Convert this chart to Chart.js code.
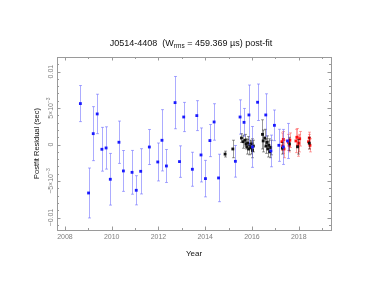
<!DOCTYPE html>
<html>
<head>
<meta charset="utf-8">
<script src="https://cdn.jsdelivr.net/npm/chart.js@4.4.1/dist/chart.umd.min.js"></script>
<style>
  html, body { margin: 0; padding: 0; background: #fff; }
  #wrap { width: 374px; height: 289px; }
</style>
</head>
<body>
<div id="wrap"><canvas id="resid-chart"></canvas></div>
<script>
// blue TOAs: year, residual (s), error (s)
const blueYear = [2008.66, 2009.01, 2009.21, 2009.38, 2009.58, 2009.76, 2009.94, 2010.31, 2010.50, 2010.87,
  2011.05, 2011.24, 2011.61, 2011.97, 2012.15, 2012.34, 2012.71, 2012.90, 2013.08, 2013.45,
  2013.64, 2013.82, 2014.01, 2014.20, 2014.38, 2014.57, 2015.29, 2015.49, 2015.66, 2015.87,
  2016.02, 2016.24, 2016.59, 2016.81, 2016.96, 2017.15, 2017.34, 2017.52]
const blueRes = [0.00562, -0.00663, 0.0015, 0.0042, -0.00064, -0.00046, -0.00475, 0.00032, -0.00361, -0.0038,
  -0.00626, -0.00366, -0.00033, -0.00238, 0.00059, -0.00293, 0.00575, -0.00233, 0.00378, -0.00338,
  0.00397, -0.00142, -0.00466, 0.00055, 0.0031, -0.00457, -0.00229, 0.00378, 0.00305, 0.00406,
  -0.00032, 0.0058, 0.00406, -0.00087, 0.00264, -0.0001, -0.00032, 0.0005]
const blueErr = [0.00247, 0.00342, 0.0037, 0.0027, 0.0030, 0.0029, 0.00354, 0.0029, 0.0028, 0.0030,
  0.0020, 0.0031, 0.0024, 0.0026, 0.0042, 0.00226, 0.00358, 0.00216, 0.0020, 0.00233,
  0.00205, 0.0037, 0.0025, 0.0022, 0.0025, 0.00325, 0.00217, 0.00235, 0.0019, 0.0041,
  0.0028, 0.0025, 0.0029, 0.00217, 0.0021, 0.0022, 0.0024, 0.0024]

// black TOAs
const blackYear = [2014.85, 2015.18, 2015.55, 2015.62, 2015.70, 2015.74, 2015.78, 2015.82, 2015.86, 2015.90,
  2015.94, 2015.98, 2016.02, 2016.06, 2016.45, 2016.48, 2016.55, 2016.60, 2016.64, 2016.68,
  2016.72, 2016.76, 2016.80, 2017.30, 2017.60, 2017.95, 2018.45]
const blackRes = [-0.0013, -0.0006, 0.0009, 0.0004, 0.0006, 0.0001, -0.0003, 0.0002, -0.0006, 0.0000,
  -0.0004, 0.0001, -0.0008, -0.0002, 0.0014, 0.0005, 0.0009, -0.0002, 0.0003, -0.0006,
  -0.0001, -0.0010, -0.0004, -0.0005, 0.0001, -0.0003, 0.0002]
const blackErr = [0.0004, 0.0012, 0.0006, 0.0009, 0.0008, 0.0007, 0.0010, 0.0009, 0.0008, 0.0006,
  0.0009, 0.0007, 0.0010, 0.0008, 0.0020, 0.0015, 0.0012, 0.0010, 0.0009, 0.0011,
  0.0009, 0.0008, 0.0010, 0.0008, 0.0009, 0.0010, 0.0008]

// red TOAs
const redYear = [2017.28, 2017.31, 2017.34, 2017.37, 2017.56, 2017.59, 2017.62, 2017.88, 2017.92, 2017.96,
  2018.00, 2018.04, 2018.42, 2018.45, 2018.48]
const redRes = [0.0004, -0.0002, 0.0007, -0.0006, 0.0003, -0.0001, 0.0006, 0.0005, 0.0010, -0.0002,
  0.0002, 0.0008, 0.0004, 0.0009, -0.0001]
const redErr = [0.0012, 0.0010, 0.0011, 0.0012, 0.0011, 0.0009, 0.0010, 0.0016, 0.0012, 0.0014,
  0.0012, 0.0010, 0.0010, 0.0008, 0.0009]

// axis labels
const xTickLabels = [2008, 2010, 2012, 2014, 2016, 2018]
const yTickValues = [0.01, 0.005, 0, -0.005, -0.01]
const yTickLabels = [["0.01", ""], ["5\u00d710", "\u22123"], ["0", ""], ["\u22125\u00d710", "\u22123"], ["\u22120.01", ""]]

const FONT = "'Liberation Sans', Arial, sans-serif"

function toPoints(xs, ys, es) {
  let pts = []
  for (let i = 0; i < xs.length; i++) {
    pts.push({ x: xs[i], y: ys[i], err: es[i] })
  }
  return pts
}

// error bars, drawn just before each dataset's markers
const errorBars = {
  id: 'errorBars',
  beforeDatasetDraw(chart, args) {
    const ds = chart.data.datasets[args.index]
    const meta = args.meta
    const ys = chart.scales.y
    const ctx = chart.ctx
    ctx.save()
    ctx.strokeStyle = ds.barColor
    ctx.lineWidth = 1
    meta.data.forEach((el, i) => {
      const p = ds.data[i]
      const x = Math.round(el.x) + 0.5
      const y1 = ys.getPixelForValue(p.y + p.err)
      const y2 = ys.getPixelForValue(p.y - p.err)
      ctx.beginPath()
      ctx.moveTo(x, y1); ctx.lineTo(x, y2)
      ctx.moveTo(x - 1.5, y1); ctx.lineTo(x + 1.5, y1)
      ctx.moveTo(x - 1.5, y2); ctx.lineTo(x + 1.5, y2)
      ctx.stroke()
    })
    ctx.restore()
  }
}

// frame with inward ticks, rotated y labels and title with subscript
const frame = {
  id: 'frame',
  afterDraw(chart) {
    const ctx = chart.ctx
    const a = chart.chartArea
    const xs = chart.scales.x
    const ys = chart.scales.y
    ctx.save()
    ctx.strokeStyle = '#9a9a9a'
    ctx.lineWidth = 1
    ctx.strokeRect(Math.round(a.left) + 0.5, Math.round(a.top) + 0.5, Math.round(a.right - a.left), Math.round(a.bottom - a.top))

    ctx.beginPath()
    for (let yr = 2008; yr <= 2019; yr++) {
      const x = Math.round(xs.getPixelForValue(yr)) + 0.5
      const len = yr % 2 === 0 ? 3.5 : 2
      ctx.moveTo(x, a.bottom); ctx.lineTo(x, a.bottom - len)
      ctx.moveTo(x, a.top); ctx.lineTo(x, a.top + len)
    }
    for (let k = -11; k <= 11; k++) {
      const y = Math.round(ys.getPixelForValue(k / 1000)) + 0.5
      const len = k % 5 === 0 ? 3.5 : 2
      ctx.moveTo(a.left, y); ctx.lineTo(a.left + len, y)
      ctx.moveTo(a.right, y); ctx.lineTo(a.right - len, y)
    }
    ctx.stroke()

    // rotated y tick labels
    ctx.fillStyle = '#808080'
    for (let i = 0; i < yTickValues.length; i++) {
      const y = ys.getPixelForValue(yTickValues[i])
      const [main, sup] = yTickLabels[i]
      ctx.save()
      ctx.translate(a.left - 4, y)
      ctx.rotate(-Math.PI / 2)
      ctx.font = '7px ' + FONT
      const w1 = ctx.measureText(main).width
      ctx.font = '5px ' + FONT
      const w2 = sup ? ctx.measureText(sup).width : 0
      const x0 = -(w1 + w2) / 2
      ctx.textBaseline = 'alphabetic'
      ctx.font = '7px ' + FONT
      ctx.fillText(main, x0, 0)
      if (sup) {
        ctx.font = '5px ' + FONT
        ctx.fillText(sup, x0 + w1, -3)
      }
      ctx.restore()
    }

    // title
    const parts = [
      ['J0514-4408  (W', 9, 0],
      ['rms', 6.5, 2],
      [' = 459.369 \u00b5s) post-fit', 9, 0]
    ]
    let total = 0
    parts.forEach(p => { ctx.font = p[1] + 'px ' + FONT; total += ctx.measureText(p[0]).width })
    let x = 191 - total / 2
    ctx.fillStyle = '#111'
    ctx.textBaseline = 'alphabetic'
    parts.forEach(p => {
      ctx.font = p[1] + 'px ' + FONT
      ctx.fillText(p[0], x, 45.5 + p[2])
      x += ctx.measureText(p[0]).width
    })
    ctx.restore()
  }
}

new Chart(document.getElementById('resid-chart'), {
  type: 'scatter',
  data: {
    datasets: [
      { data: toPoints(blueYear, blueRes, blueErr), backgroundColor: '#1a1aff', borderColor: '#1a1aff', barColor: 'rgba(90,90,255,0.5)', pointStyle: 'rect', pointRadius: 2, borderWidth: 0 },
      { data: toPoints(blackYear, blackRes, blackErr), backgroundColor: '#111', borderColor: '#111', barColor: 'rgba(0,0,0,0.4)', pointStyle: 'rect', pointRadius: 2, borderWidth: 0 },
      { data: toPoints(redYear, redRes, redErr), backgroundColor: '#ff1010', borderColor: '#ff1010', barColor: 'rgba(255,60,60,0.45)', pointStyle: 'rect', pointRadius: 2, borderWidth: 0 }
    ]
  },
  options: {
    responsive: true,
    maintainAspectRatio: false,
    animation: false,
    events: [],
    layout: { padding: { left: 28, right: 43, top: 57, bottom: 30 } },
    plugins: { legend: { display: false }, tooltip: { enabled: false } },
    scales: {
      x: {
        type: 'linear',
        min: 2007.66,
        max: 2019.38,
        grid: { display: false, drawTicks: false },
        border: { display: false },
        ticks: {
          stepSize: 2,
          includeBounds: false,
          maxRotation: 0,
          padding: 3,
          color: '#808080',
          font: { family: FONT, size: 7 },
          callback: v => xTickLabels.includes(v) ? String(v) : ''
        },
        title: { display: true, text: 'Year', color: '#111', font: { family: FONT, size: 8 }, padding: { top: 0, bottom: 0 } },
        afterFit: s => { s.height = 29 }
      },
      y: {
        min: -0.0117,
        max: 0.012,
        grid: { display: false, drawTicks: false },
        border: { display: false },
        ticks: { display: false },
        title: { display: true, text: 'Postfit Residual (sec)', color: '#111', font: { family: FONT, size: 7.5 }, padding: { top: 4, bottom: 0 } },
        afterFit: s => { s.width = 29 }
      }
    }
  },
  plugins: [errorBars, frame]
})
</script>
</body>
</html>
